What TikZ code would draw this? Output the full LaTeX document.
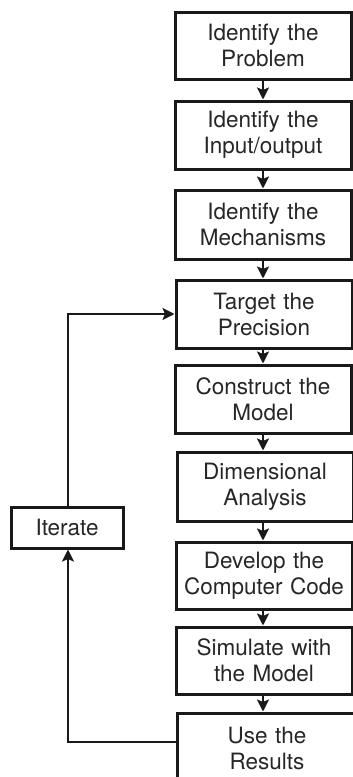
\documentclass[tikz,border=0pt]{standalone}
\usepackage{fontspec}
\setmainfont{TeX Gyre Heros}
\usetikzlibrary{arrows.meta}
\tikzset{
  stepbox/.style={draw=black!90, line width=3pt, minimum width=176pt, text width=170pt,
    align=center, inner sep=0pt, font=\fontsize{22.5}{26}\selectfont, text=black!85},
  iterbox/.style={draw=black!90, line width=3pt, minimum width=112pt, minimum height=41pt,
    align=center, inner sep=0pt, font=\fontsize{22.5}{26}\selectfont, text=black!85},
  flow/.style={draw=black!90, line width=2.7pt, -{Stealth[length=12pt,width=12pt,inset=2.5pt]}}
}
\begin{document}
\begin{tikzpicture}[x=1pt,y=-1pt]
\useasboundingbox (0,0) rectangle (353,777);
\node[stepbox, minimum height=67pt] (n1) at (263,45.5) {Identify the\\Problem};
\node[stepbox, minimum height=68pt] (n2) at (263,135) {Identify the\\Input/output};
\node[stepbox, minimum height=69pt] (n3) at (263,224.5) {Identify the\\Mechanisms};
\node[stepbox, minimum height=68pt] (n4) at (264,314) {Target the\\Precision};
\node[stepbox, minimum height=68pt] (n5) at (263,399) {Construct the\\Model};
\node[stepbox, minimum height=69pt] (n6) at (265,486.5) {Dimensional\\Analysis};
\node[stepbox, minimum height=67pt] (n7) at (264,575.5) {Develop the\\Computer Code};
\node[stepbox, minimum height=67pt] (n8) at (264,660.5) {Simulate with\\the Model};
\node[stepbox, minimum height=70pt, minimum width=180pt] (n9) at (267,748) {Use the\\Results};
\node[iterbox] (it) at (67,527.5) {Iterate};
\foreach \a/\b in {n1/n2,n2/n3,n3/n4,n4/n5,n5/n6,n6/n7,n7/n8,n8/n9}
  \draw[flow] (\a.south -| 263,0) -- (\b.north -| 263,0);
\draw[flow] (it.north -| 68,0) |- (n4.west);
\coordinate (ret) at (177,742);
\draw[flow] (ret) -| (it.south -| 68,0);
\end{tikzpicture}
\end{document}
